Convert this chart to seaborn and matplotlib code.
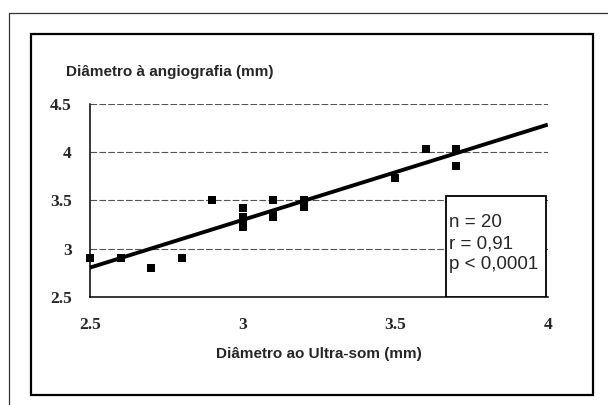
import matplotlib
matplotlib.use("Agg")
import matplotlib.pyplot as plt
from matplotlib.patches import Rectangle
from matplotlib.lines import Line2D
import seaborn as sns
import pandas as pd

# values
diam_us = [2.5, 2.6, 2.7, 2.8, 2.9, 3.0, 3.0, 3.0, 3.0, 3.0,
           3.1, 3.1, 3.1, 3.2, 3.2, 3.2, 3.5, 3.6, 3.7, 3.7]
diam_angio = [2.9, 2.9, 2.8, 2.9, 3.5, 3.42, 3.33, 3.3, 3.28, 3.22,
              3.5, 3.33, 3.35, 3.5, 3.5, 3.43, 3.73, 4.03, 4.03, 3.85]
x_ticks = [2.5, 3, 3.5, 4]
x_tick_labels = ["2.5", "3", "3.5", "4"]
y_ticks = [2.5, 3, 3.5, 4, 4.5]
y_tick_labels = ["2.5", "3", "3.5", "4", "4.5"]
stats_text = "n = 20\nr = 0,91\np < 0,0001"

df = pd.DataFrame({"us": diam_us, "angio": diam_angio})

sns.set_style("white")
plt.rcParams["font.family"] = ["Liberation Sans", "DejaVu Sans"]

fig = plt.figure(figsize=(6.08, 4.05), dpi=100)
ax = fig.add_axes([0.148, 0.267, 0.753, 0.477])
ax.set_xlim(2.5, 4)
ax.set_ylim(2.5, 4.5)

# dashed horizontal gridlines like the Excel original
for yv in y_ticks[1:]:
    ax.axhline(yv, color="#555555", lw=0.8, ls=(0, (6, 2)), zorder=0)

sns.regplot(data=df, x="us", y="angio", ax=ax, ci=None, truncate=False,
            marker="s", color="black",
            scatter_kws={"s": 28, "linewidths": 0, "alpha": 1, "clip_on": False, "zorder": 5},
            line_kws={"lw": 2.8, "solid_capstyle": "butt"})

ax.set_xticks(x_ticks)
ax.set_xticklabels(x_tick_labels, family="Liberation Serif", fontsize=12.5, fontweight="bold")
ax.set_yticks(y_ticks)
ax.set_yticklabels(y_tick_labels, family="Liberation Serif", fontsize=12.5, fontweight="bold")
ax.tick_params(axis="x", direction="inout", length=5, width=1, pad=12, color="black")
ax.tick_params(axis="y", direction="out", length=4, width=1, pad=9, color="black")

for side in ["top", "right"]:
    ax.spines[side].set_visible(False)
for side in ["left", "bottom"]:
    ax.spines[side].set_color("black")
    ax.spines[side].set_linewidth(1.1)

ax.set_xlabel("Diâmetro ao Ultra-som (mm)", fontsize=11, fontweight="bold", labelpad=10)
ax.set_ylabel("")

# stats box
ax.add_patch(Rectangle((0.778, 0.0), 0.218, 0.523, transform=ax.transAxes,
                       facecolor="white", edgecolor="black", lw=1.3, zorder=3))
ax.text(0.784, 0.275, stats_text, transform=ax.transAxes, fontsize=13.5,
        va="center", ha="left", linespacing=1.3, zorder=4)

fig.text(66 / 608, 1 - 72 / 405, "Diâmetro à angiografia (mm)", fontsize=11,
         fontweight="bold", ha="left", va="center")

# frames of the scanned page
fig.add_artist(Rectangle((31 / 608, 1 - 395 / 405), 562 / 608, 361 / 405,
                         transform=fig.transFigure, fill=False,
                         edgecolor="black", lw=1.6))
fig.add_artist(Line2D([9 / 608, 1.0], [1 - 13 / 405, 1 - 13 / 405],
                      transform=fig.transFigure, color="#333333", lw=0.9))
fig.add_artist(Line2D([9 / 608, 9 / 608], [0.0, 1 - 13 / 405],
                      transform=fig.transFigure, color="#333333", lw=0.9))

fig.savefig("out.png", dpi=100)
